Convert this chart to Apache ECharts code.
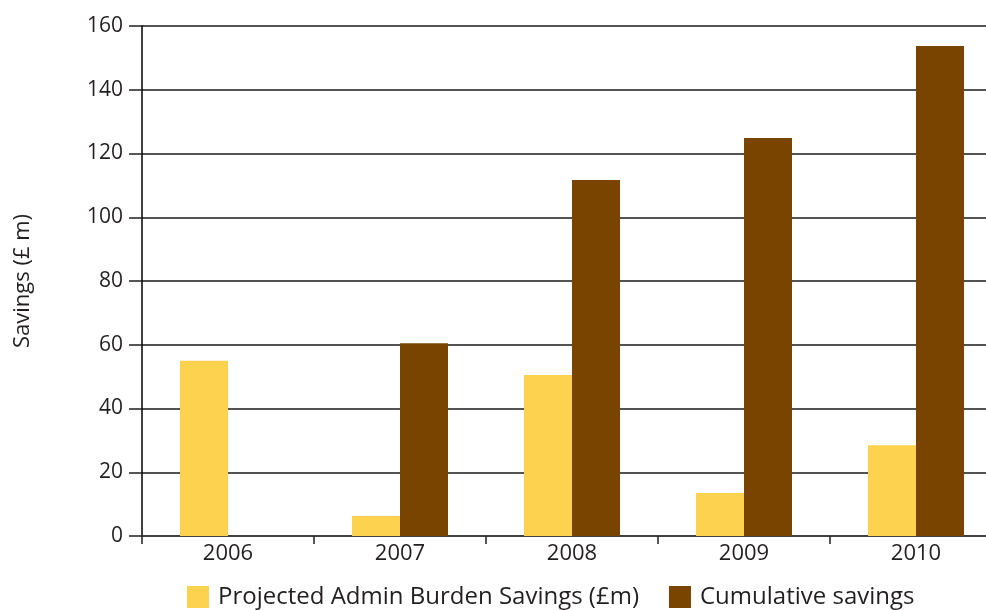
<!DOCTYPE html>
<html>
<head>
<meta charset="utf-8">
<script src="https://cdn.jsdelivr.net/npm/echarts@6/dist/echarts.min.js"></script>
<style>
  html, body { margin: 0; padding: 0; background: #fff; }
  #main { width: 986px; height: 610px; }
</style>
</head>
<body>
<div id="main"></div>
<script>
  // 年份 / series values
  var years = ['2006', '2007', '2008', '2009', '2010']
  var projectedSavings = [55, 6.3, 50.5, 13.5, 28.5]
  var cumulativeSavings = [null, 60.5, 111.7, 124.9, 153.7]
  var yTicks = [0, 20, 40, 60, 80, 100, 120, 140, 160]

  var fontFamily = '"Open Sans", "Noto Sans", sans-serif'
  var chart = echarts.init(document.getElementById('main'))
  chart.setOption({
    animation: false,
    textStyle: { fontFamily: fontFamily },
    grid: {
      left: 142,
      width: 860,
      top: 26,
      bottom: 74,
      outerBoundsMode: 'none'
    },
    legend: {
      top: 585,
      left: 187,
      padding: 0,
      itemWidth: 22,
      itemHeight: 22,
      itemGap: 30,
      icon: 'rect',
      textStyle: { fontSize: 24, color: '#231f20', fontFamily: fontFamily, padding: [0, 0, 0, 4] },
      data: ['Projected Admin Burden Savings (£m)', 'Cumulative savings']
    },
    xAxis: {
      type: 'category',
      data: years,
      axisLine: { lineStyle: { color: '#3c3c46', width: 1.5 } },
      axisTick: { show: true, length: 8, lineStyle: { color: '#231f20', width: 1.5 } },
      axisLabel: { fontSize: 22, color: '#231f20', margin: 7 }
    },
    yAxis: {
      type: 'value',
      min: yTicks[0],
      max: yTicks[yTicks.length - 1],
      interval: 20,
      name: 'Savings (£ m)',
      nameLocation: 'middle',
      nameGap: 108,
      nameTextStyle: { fontSize: 22, color: '#231f20' },
      axisLine: { show: true, lineStyle: { color: '#000', width: 1.5 } },
      axisTick: { show: true, length: 13, lineStyle: { color: '#231f20', width: 1.5 } },
      axisLabel: { fontSize: 21, color: '#231f20', margin: 19 },
      splitLine: { lineStyle: { color: '#1a1a1a', width: 1.5 } }
    },
    series: [{
        name: 'Projected Admin Burden Savings (£m)',
        type: 'bar',
        barWidth: 48,
        barGap: '0%',
        itemStyle: { color: '#fcd24f' },
        data: projectedSavings
      },
      {
        name: 'Cumulative savings',
        type: 'bar',
        barWidth: 48,
        barGap: '0%',
        itemStyle: { color: '#794300' },
        data: cumulativeSavings
      }
    ]
  })
</script>
</body>
</html>
